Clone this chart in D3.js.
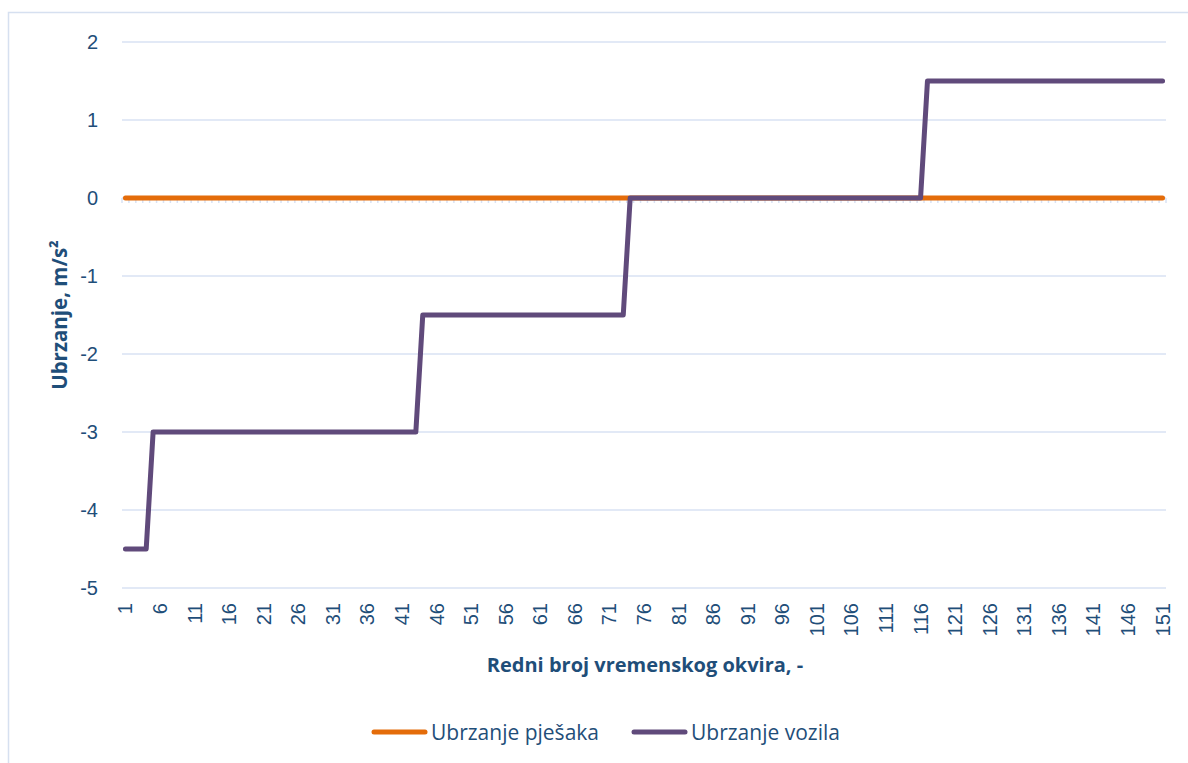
<!DOCTYPE html>
<html>
<head>
<meta charset="utf-8">
<script src="https://cdn.jsdelivr.net/npm/d3@7"></script>
<style>
  body { margin: 0; background: #fff; }
  svg { display: block; font-family: "Open Sans", Lato, sans-serif; }
</style>
</head>
<body>
<svg id="chart"></svg>
<script>
// frame numbers (categories on the x axis)
const frames = d3.range(1, 152);
const xTickLabels = [1, 6, 11, 16, 21, 26, 31, 36, 41, 46, 51, 56, 61, 66, 71, 76, 81, 86, 91, 96, 101, 106, 111, 116, 121, 126, 131, 136, 141, 146, 151];
const yTickLabels = [-5, -4, -3, -2, -1, 0, 1, 2];

// pedestrian acceleration, m/s2
const pjesaci = [
  0, 0, 0, 0, 0, 0, 0, 0, 0, 0, 0, 0, 0, 0, 0, 0, 0, 0, 0, 0,
  0, 0, 0, 0, 0, 0, 0, 0, 0, 0, 0, 0, 0, 0, 0, 0, 0, 0, 0, 0,
  0, 0, 0, 0, 0, 0, 0, 0, 0, 0, 0, 0, 0, 0, 0, 0, 0, 0, 0, 0,
  0, 0, 0, 0, 0, 0, 0, 0, 0, 0, 0, 0, 0, 0, 0, 0, 0, 0, 0, 0,
  0, 0, 0, 0, 0, 0, 0, 0, 0, 0, 0, 0, 0, 0, 0, 0, 0, 0, 0, 0,
  0, 0, 0, 0, 0, 0, 0, 0, 0, 0, 0, 0, 0, 0, 0, 0, 0, 0, 0, 0,
  0, 0, 0, 0, 0, 0, 0, 0, 0, 0, 0, 0, 0, 0, 0, 0, 0, 0, 0, 0,
  0, 0, 0, 0, 0, 0, 0, 0, 0, 0, 0
];

// vehicle acceleration, m/s2
const vozilo = [
  -4.5, -4.5, -4.5, -4.5, -3, -3, -3, -3, -3, -3,
  -3, -3, -3, -3, -3, -3, -3, -3, -3, -3,
  -3, -3, -3, -3, -3, -3, -3, -3, -3, -3,
  -3, -3, -3, -3, -3, -3, -3, -3, -3, -3,
  -3, -3, -3, -1.5, -1.5, -1.5, -1.5, -1.5, -1.5, -1.5,
  -1.5, -1.5, -1.5, -1.5, -1.5, -1.5, -1.5, -1.5, -1.5, -1.5,
  -1.5, -1.5, -1.5, -1.5, -1.5, -1.5, -1.5, -1.5, -1.5, -1.5,
  -1.5, -1.5, -1.5, 0, 0, 0, 0, 0, 0, 0,
  0, 0, 0, 0, 0, 0, 0, 0, 0, 0,
  0, 0, 0, 0, 0, 0, 0, 0, 0, 0,
  0, 0, 0, 0, 0, 0, 0, 0, 0, 0,
  0, 0, 0, 0, 0, 0, 1.5, 1.5, 1.5, 1.5,
  1.5, 1.5, 1.5, 1.5, 1.5, 1.5, 1.5, 1.5, 1.5, 1.5,
  1.5, 1.5, 1.5, 1.5, 1.5, 1.5, 1.5, 1.5, 1.5, 1.5,
  1.5, 1.5, 1.5, 1.5, 1.5, 1.5, 1.5, 1.5, 1.5, 1.5,
  1.5
];

const seriesNames = ["Ubrzanje pješaka", "Ubrzanje vozila"];
const seriesColors = ["#E46C0A", "#604A7B"];

const width = 1188, height = 763;
const plot = { left: 122, right: 1166, top: 42, bottom: 588 };
const textColor = "#1F4E79";
const gridColor = "#D9E2F3";

const svg = d3.select("#chart").attr("width", width).attr("height", height);

// outer chart border (runs off the right and bottom of the picture)
svg.append("rect")
  .attr("x", 8.5).attr("y", 12.5)
  .attr("width", 1300).attr("height", 900)
  .attr("fill", "none")
  .attr("stroke", "#D6E0F0")
  .attr("stroke-width", 1.5);

const x = d3.scaleBand().domain(frames).range([plot.left, plot.right]).padding(0);
const y = d3.scaleLinear().domain([-5, 2]).range([plot.bottom, plot.top]);
const cx = d => x(d) + x.bandwidth() / 2;

// horizontal gridlines
svg.append("g")
  .selectAll("line")
  .data(yTickLabels)
  .join("line")
  .attr("x1", plot.left).attr("x2", plot.right)
  .attr("y1", d => y(d)).attr("y2", d => y(d))
  .attr("stroke", gridColor)
  .attr("stroke-width", 1.5);

// small category tick marks hanging under the zero line
const bounds = frames.map(f => x(f)).concat([plot.right]);
svg.append("g")
  .selectAll("line")
  .data(bounds)
  .join("line")
  .attr("x1", d => d).attr("x2", d => d)
  .attr("y1", y(0)).attr("y2", y(0) + 5)
  .attr("stroke", gridColor)
  .attr("stroke-width", 1.5);

// y axis labels
const yAxis = svg.append("g")
  .attr("transform", `translate(${plot.left},0)`)
  .call(d3.axisLeft(y).tickValues(yTickLabels).tickSize(0).tickPadding(24).tickFormat(d => String(d)));
yAxis.select(".domain").remove();
yAxis.selectAll("text")
  .attr("fill", textColor)
  .style("font-size", "20px");

// x axis labels, rotated
const xAxis = svg.append("g")
  .attr("transform", `translate(0,${plot.bottom})`)
  .call(d3.axisBottom(x).tickValues(xTickLabels).tickSize(0));
xAxis.select(".domain").remove();
xAxis.selectAll("text")
  .attr("fill", textColor)
  .style("font-size", "20px")
  .attr("transform", "rotate(-90)")
  .attr("text-anchor", "end")
  .attr("x", -15)
  .attr("y", 0)
  .attr("dy", "0.35em");

// series lines
const line = d3.line()
  .x((d, i) => cx(frames[i]))
  .y(d => y(d));

[pjesaci, vozilo].forEach((vals, k) => {
  svg.append("path")
    .datum(vals)
    .attr("d", line)
    .attr("fill", "none")
    .attr("stroke", seriesColors[k])
    .attr("stroke-width", 5)
    .attr("stroke-linejoin", "round")
    .attr("stroke-linecap", "round");
});

// axis titles
svg.append("text")
  .attr("transform", `translate(67,${(plot.top + plot.bottom) / 2}) rotate(-90)`)
  .attr("text-anchor", "middle")
  .attr("fill", textColor)
  .style("font-size", "20.5px")
  .style("font-weight", "bold")
  .text("Ubrzanje, m/s²");

svg.append("text")
  .attr("x", 645).attr("y", 672)
  .attr("text-anchor", "middle")
  .attr("fill", textColor)
  .style("font-size", "20px")
  .style("font-weight", "bold")
  .text("Redni broj vremenskog okvira, -");

// legend
const legendX = [372, 632];
const legend = svg.append("g")
  .selectAll("g")
  .data(seriesNames)
  .join("g")
  .attr("transform", (d, i) => `translate(${legendX[i]},732)`);
legend.append("line")
  .attr("x1", 2).attr("x2", 53)
  .attr("stroke", (d, i) => seriesColors[i])
  .attr("stroke-width", 5)
  .attr("stroke-linecap", "round");
legend.append("text")
  .attr("x", 59).attr("y", 8)
  .attr("fill", textColor)
  .style("font-size", "21px")
  .text(d => d);
</script>
</body>
</html>
